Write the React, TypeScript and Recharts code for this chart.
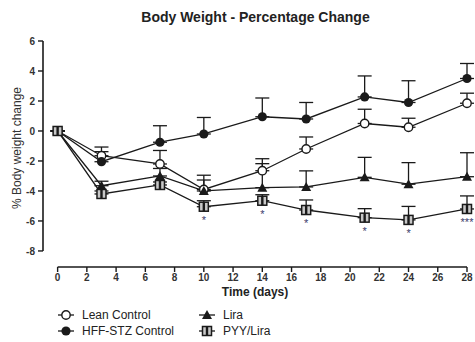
import React from 'react';
import { LineChart, Line, XAxis, YAxis, ErrorBar, ReferenceLine, LabelList } from 'recharts';

const days = [0, 3, 7, 10, 14, 17, 21, 24, 28];
const leanControl = [0, -1.65, -2.2, -3.9, -2.65, -1.2, 0.5, 0.25, 1.85];
const leanErr = [0, 0.58, 0.9, 0.95, 0.8, 0.8, 0.95, 0.6, 0.67];
const hffStz = [0, -2.05, -0.75, -0.2, 0.95, 0.8, 2.27, 1.9, 3.5];
const hffErr = [0, 0.67, 1.1, 1.1, 1.25, 1.1, 1.4, 1.45, 1.0];
const lira = [0, -3.65, -3.0, -4.0, -3.78, -3.73, -3.09, -3.55, -3.05];
const liraErr = [0, 0.3, 0.5, 0.73, 1.6, 1.07, 1.33, 1.44, 1.6];
const pyyLira = [0, -4.2, -3.6, -5.05, -4.65, -5.27, -5.78, -5.93, -5.2];
const pyyErr = [0, 0.2, 0.2, 0.4, 0.4, 0.67, 0.6, 0.9, 0.87];
const significance = ['', '', '', '*', '*', '*', '*', '*', '***'];
const xTicks = [0, 2, 4, 6, 8, 10, 12, 14, 16, 18, 20, 22, 24, 26, 28];
const yTicks = [-8, -6, -4, -2, 0, 2, 4, 6];

const data = days.map((d, i) => ({
  day: d,
  lean: leanControl[i],
  leanErr: [0, leanErr[i]],
  hff: hffStz[i],
  hffErr: [0, hffErr[i]],
  lira: lira[i],
  liraErr: [0, liraErr[i]],
  pyy: pyyLira[i],
  pyyErr: [0, pyyErr[i]],
  sig: significance[i],
}));

const INK = '#1a1a1a';
const font = '"Liberation Sans", Arial, sans-serif';

const OpenCircle = ({ cx, cy }: any) => (
  <circle cx={cx} cy={cy} r={4.2} fill="#fff" stroke={INK} strokeWidth={1.4} />
);
const FilledCircle = ({ cx, cy }: any) => <circle cx={cx} cy={cy} r={4.6} fill={INK} />;
const Triangle = ({ cx, cy }: any) => (
  <polygon points={`${cx},${cy - 5} ${cx + 5},${cy + 4} ${cx - 5},${cy + 4}`} fill={INK} />
);
const HalfSquare = ({ cx, cy }: any) => (
  <g>
    <rect x={cx - 4.5} y={cy - 4.5} width={9} height={9} fill="#c8c8c8" stroke={INK} strokeWidth={1.5} />
    <rect x={cx - 1.2} y={cy - 4.5} width={2.4} height={9} fill={INK} />
  </g>
);

const dotFor = (Shape: any) => (props: any) => (
  <Shape key={`d-${props.index}`} cx={props.cx} cy={props.cy} />
);

const legendItems = [
  { name: 'Lean Control', Shape: OpenCircle, left: 57, top: 307 },
  { name: 'HFF-STZ Control', Shape: FilledCircle, left: 57, top: 323 },
  { name: 'Lira', Shape: Triangle, left: 198, top: 307 },
  { name: 'PYY/Lira', Shape: HalfSquare, left: 198, top: 323 },
];

const SigLabel = (props: any) => {
  const { x, y, value } = props;
  if (!value) return null;
  return (
    <text x={x} y={y + 17} textAnchor="middle" fontSize={11} fill="#3b3b6b" fontFamily={font}>
      {value}
    </text>
  );
};

const YLabel = () => (
  <text
    transform="translate(17,148) rotate(-90)"
    textAnchor="middle"
    dominantBaseline="central"
    fontSize={12}
    fill="#333"
    fontFamily={font}
  >
    % Body weight change
  </text>
);

export default function App() {
  return (
    <div style={{ position: 'absolute', left: 0, top: 0, width: 475, height: 342, background: '#fff', fontFamily: font }}>
      <div style={{ position: 'absolute', left: 0, width: 475, top: 9, textAlign: 'center', paddingLeft: 36, boxSizing: 'border-box', fontSize: 14, fontWeight: 'bold', color: '#222' }}>
        Body Weight - Percentage Change
      </div>
      <LineChart width={475} height={342} data={data} margin={{ top: 41, right: 8, bottom: 45, left: 8 }}>
        <XAxis
          dataKey="day"
          type="number"
          domain={[-1, 28]}
          ticks={xTicks}
          axisLine={false}
          tickSize={5}
          tickMargin={2}
          height={30}
          tickLine={{ stroke: INK, strokeWidth: 1.4 }}
          tick={{ fontSize: 10, fontWeight: 'bold', fill: '#333', fontFamily: font }}
          label={{ value: 'Time (days)', position: 'insideTop', offset: 20, style: { fontSize: 12, fontWeight: 'bold', fill: '#222', fontFamily: font } }}
        />
        <YAxis
          type="number"
          domain={[-9.07, 6]}
          ticks={yTicks}
          axisLine={false}
          width={35}
          tickSize={5}
          tickMargin={3}
          tickLine={{ stroke: INK, strokeWidth: 1.4 }}
          tick={{ fontSize: 10, fontWeight: 'bold', fill: '#333', fontFamily: font }}
          label={<YLabel />}
        />
        <ReferenceLine segment={[{ x: 0, y: -9.07 }, { x: 28, y: -9.07 }]} stroke={INK} strokeWidth={1.6} />
        <ReferenceLine segment={[{ x: -1, y: -8 }, { x: -1, y: 6 }]} stroke={INK} strokeWidth={1.6} />
        <Line dataKey="lean" stroke={INK} strokeWidth={1.3} isAnimationActive={false} dot={dotFor(OpenCircle)} activeDot={false}>
          <ErrorBar dataKey="leanErr" direction="y" width={7} stroke={INK} strokeWidth={1.3} />
        </Line>
        <Line dataKey="hff" stroke={INK} strokeWidth={1.3} isAnimationActive={false} dot={dotFor(FilledCircle)} activeDot={false}>
          <ErrorBar dataKey="hffErr" direction="y" width={7} stroke={INK} strokeWidth={1.3} />
        </Line>
        <Line dataKey="lira" stroke={INK} strokeWidth={1.3} isAnimationActive={false} dot={dotFor(Triangle)} activeDot={false}>
          <ErrorBar dataKey="liraErr" direction="y" width={7} stroke={INK} strokeWidth={1.3} />
        </Line>
        <Line dataKey="pyy" stroke={INK} strokeWidth={1.3} isAnimationActive={false} dot={dotFor(HalfSquare)} activeDot={false}>
          <ErrorBar dataKey="pyyErr" direction="y" width={7} stroke={INK} strokeWidth={1.3} />
          <LabelList dataKey="sig" content={<SigLabel />} />
        </Line>
      </LineChart>
      {legendItems.map((it) => (
        <div key={it.name} style={{ position: 'absolute', left: it.left, top: it.top, height: 16, display: 'flex', alignItems: 'center', fontSize: 12, color: '#222' }}>
          <svg width={18} height={14} style={{ marginRight: 7 }}>
            <line x1={1} y1={7} x2={17} y2={7} stroke={INK} strokeWidth={1.3} />
            <it.Shape cx={9} cy={7} />
          </svg>
          {it.name}
        </div>
      ))}
    </div>
  );
}
